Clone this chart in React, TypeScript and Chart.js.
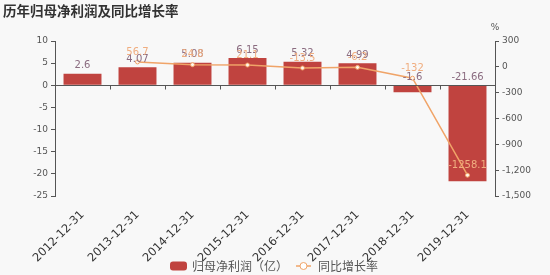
import React, { useEffect, useRef } from "react";
import { Chart, registerables } from "chart.js";

Chart.register(...registerables);

const categories = ["2012-12-31", "2013-12-31", "2014-12-31", "2015-12-31", "2016-12-31", "2017-12-31", "2018-12-31", "2019-12-31"];
const profitValues = [2.6, 4.07, 5.08, 6.15, 5.32, 4.99, -1.6, -21.66];
const growthValues: (number | null)[] = [null, 56.7, 24.8, 21.1, -13.5, -6.2, -132, -1258.1];
const profitName = "归母净利润（亿）";
const growthName = "同比增长率";
const titleText = "历年归母净利润及同比增长率";

const BAR_COLOR = "#c0433f";
const LINE_COLOR = "#f0a468";
const BAR_LABEL_COLOR = "#8b6c80";
const LINE_LABEL_COLOR = "#f0ae80";
const AXIS_COLOR = "#555";

const decorPlugin = {
  id: "decor",
  afterDatasetsDraw(chart: any) {
    const ctx = chart.ctx;
    ctx.save();
    // bar labels
    const barMeta = chart.getDatasetMeta(0);
    ctx.font = "10px 'DejaVu Sans'";
    ctx.textAlign = "center";
    ctx.textBaseline = "bottom";
    ctx.fillStyle = BAR_LABEL_COLOR;
    barMeta.data.forEach((el: any, i: number) => {
      const top = Math.min(el.y, el.base);
      ctx.fillText(String(profitValues[i]), el.x, top - 3);
    });
    // line labels
    const lineMeta = chart.getDatasetMeta(1);
    ctx.fillStyle = LINE_LABEL_COLOR;
    lineMeta.data.forEach((el: any, i: number) => {
      const v = growthValues[i];
      if (v === null || el.skip) return;
      ctx.fillText(String(v), el.x, el.y - 5);
    });
    ctx.restore();
  },
  afterDraw(chart: any) {
    const ctx = chart.ctx;
    const area = chart.chartArea;
    const yScale = chart.scales.y;
    const xScale = chart.scales.x;
    ctx.save();
    // zero line with ticks at category boundaries
    const y0 = Math.round(yScale.getPixelForValue(0)) + 0.5;
    ctx.strokeStyle = AXIS_COLOR;
    ctx.lineWidth = 1;
    ctx.beginPath();
    ctx.moveTo(area.left, y0);
    ctx.lineTo(area.right, y0);
    const n = categories.length;
    const step = (area.right - area.left) / n;
    for (let i = 1; i < n; i++) {
      const x = Math.round(area.left + step * i) + 0.5;
      ctx.moveTo(x, y0);
      ctx.lineTo(x, y0 + 4);
    }
    ctx.stroke();
    // title
    ctx.fillStyle = "#333";
    ctx.font = "bold 13.5px 'Noto Sans CJK SC'";
    ctx.textAlign = "left";
    ctx.textBaseline = "middle";
    ctx.fillText(titleText, 3, 11);
    // percent label
    ctx.fillStyle = AXIS_COLOR;
    ctx.font = "9px 'DejaVu Sans'";
    ctx.textAlign = "center";
    ctx.fillText("%", area.right, 28);
    // legend
    const ly = 266;
    ctx.fillStyle = BAR_COLOR;
    ctx.beginPath();
    (ctx as any).roundRect(170, ly - 4.5, 17, 9, 3);
    ctx.fill();
    ctx.fillStyle = "#555";
    ctx.font = "12px 'Noto Sans CJK SC'";
    ctx.textAlign = "left";
    ctx.textBaseline = "middle";
    ctx.fillText(profitName, 192, ly);
    ctx.strokeStyle = LINE_COLOR;
    ctx.lineWidth = 1.5;
    ctx.beginPath();
    ctx.moveTo(296, ly);
    ctx.lineTo(311, ly);
    ctx.stroke();
    ctx.beginPath();
    ctx.arc(303.5, ly, 3.5, 0, Math.PI * 2);
    ctx.fillStyle = "#fff";
    ctx.fill();
    ctx.lineWidth = 1;
    ctx.stroke();
    ctx.fillStyle = "#555";
    ctx.fillText(growthName, 318, ly);
    ctx.restore();
  },
};

export default function App() {
  const canvasRef = useRef<HTMLCanvasElement | null>(null);

  useEffect(() => {
    document.body.style.margin = "0";
    const canvas = canvasRef.current;
    if (!canvas) return;
    const chart = new Chart(canvas, {
      type: "bar",
      data: {
        labels: categories,
        datasets: [
          {
            type: "bar",
            label: profitName,
            data: profitValues,
            backgroundColor: BAR_COLOR,
            yAxisID: "y",
            barPercentage: 0.69,
            categoryPercentage: 1,
            order: 1,
          } as any,
          {
            type: "line",
            label: growthName,
            data: growthValues,
            borderColor: LINE_COLOR,
            borderWidth: 1.5,
            pointRadius: 2,
            pointBorderWidth: 1,
            pointBackgroundColor: "#fff6ee",
            pointBorderColor: LINE_COLOR,
            tension: 0,
            yAxisID: "y1",
            order: 0,
          } as any,
        ],
      },
      options: {
        responsive: false,
        devicePixelRatio: 1,
        animation: false,
        layout: { padding: { top: 41, left: 0, right: 0, bottom: 0 } },
        plugins: {
          legend: { display: false },
          tooltip: { enabled: false },
          title: { display: false },
        },
        scales: {
          x: {
            grid: { display: false },
            border: { display: false },
            ticks: {
              autoSkip: false,
              maxRotation: 45,
              minRotation: 45,
              color: "#333",
              padding: 4,
              font: { size: 11.5, family: "'DejaVu Sans'" },
            },
            afterFit(scale: any) {
              scale.height = 79;
            },
          },
          y: {
            position: "left",
            min: -25,
            max: 10,
            ticks: {
              stepSize: 5,
              color: AXIS_COLOR,
              padding: 3,
              font: { size: 9, family: "'DejaVu Sans'" },
            },
            grid: { drawOnChartArea: false, drawTicks: true, tickLength: 4, color: AXIS_COLOR },
            border: { display: true, color: AXIS_COLOR },
            afterFit(scale: any) {
              scale.width = 55;
            },
          },
          y1: {
            position: "right",
            min: -1500,
            max: 300,
            ticks: {
              stepSize: 300,
              color: AXIS_COLOR,
              padding: 3,
              font: { size: 9, family: "'DejaVu Sans'" },
              callback: (v: any) => Number(v).toLocaleString("en-US"),
            },
            grid: { drawOnChartArea: false, drawTicks: true, tickLength: 4, color: AXIS_COLOR },
            border: { display: true, color: AXIS_COLOR },
            afterFit(scale: any) {
              scale.width = 55;
            },
          },
        },
      } as any,
      plugins: [decorPlugin],
    });
    return () => chart.destroy();
  }, []);

  return (
    <div style={{ position: "fixed", left: 0, top: 0, width: 550, height: 275, background: "#f8f8f8" }}>
      <canvas ref={canvasRef} width={550} height={275} style={{ width: 550, height: 275, display: "block" }} />
    </div>
  );
}
